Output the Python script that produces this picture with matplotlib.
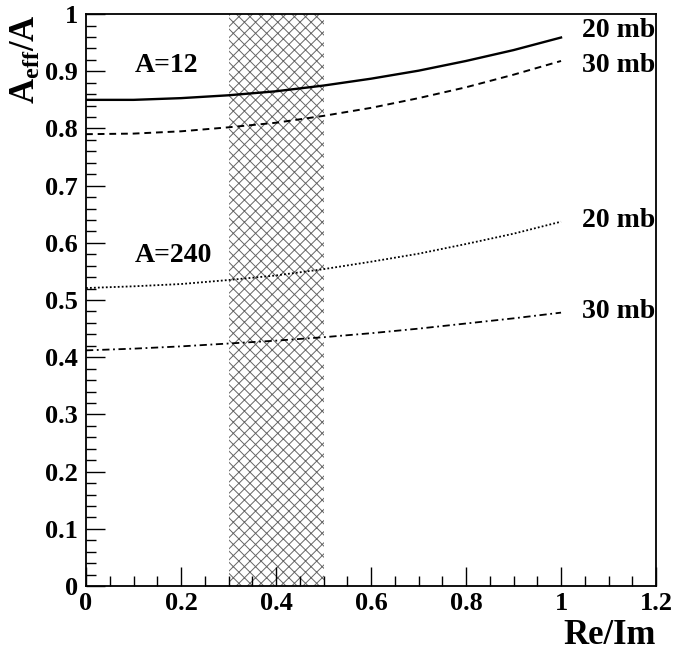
import numpy as np
import matplotlib
matplotlib.use("Agg")
import matplotlib.pyplot as plt
from matplotlib.ticker import MultipleLocator, FuncFormatter

# curves (Re/Im vs A_eff/A)
re_im = [0.0, 0.1, 0.2, 0.3, 0.4, 0.5, 0.6, 0.7, 0.8, 0.9, 1.0]
a12_20mb = [0.850, 0.850, 0.853, 0.858, 0.865, 0.875, 0.887, 0.901, 0.918, 0.937, 0.959]
a12_30mb = [0.790, 0.791, 0.795, 0.802, 0.810, 0.822, 0.836, 0.853, 0.872, 0.894, 0.918]
a240_20mb = [0.521, 0.524, 0.528, 0.535, 0.543, 0.554, 0.567, 0.581, 0.598, 0.616, 0.637]
a240_30mb = [0.412, 0.415, 0.419, 0.424, 0.429, 0.435, 0.442, 0.450, 0.459, 0.468, 0.478]
band = (0.3, 0.5)

plt.rcParams['font.family'] = 'Liberation Serif'
plt.rcParams['font.weight'] = 'bold'
plt.rcParams['mathtext.fontset'] = 'custom'
plt.rcParams['mathtext.rm'] = 'Liberation Serif:bold'
plt.rcParams['mathtext.bf'] = 'Liberation Serif:bold'
plt.rcParams['mathtext.default'] = 'bf'
plt.rcParams['hatch.color'] = '#666666'
plt.rcParams['hatch.linewidth'] = 0.7

fig = plt.figure(figsize=(6.73, 6.51), dpi=100)
ax = fig.add_axes([0.1278, 0.0998, 0.847, 0.8786])

# shaded Re/Im band
ax.axvspan(band[0], band[1], facecolor='white', hatch='xxx',
           linewidth=0, zorder=0)

ax.plot(re_im, a12_20mb, color='black', lw=1.7, ls='-')
ax.plot(re_im, a12_30mb, color='black', lw=1.4, ls=(0, (3.5, 2.5)))
ax.plot(re_im, a240_20mb, color='black', lw=1.3, ls=(0, (1, 1.2)))
ax.plot(re_im, a240_30mb, color='black', lw=1.3, ls=(0, (4, 2, 1, 2)))

txt = dict(fontsize=20, fontweight='bold', clip_on=False, va='baseline', ha='left')
ax.text(0.103, 0.899, 'A=12', **txt)
ax.text(0.103, 0.566, 'A=240', **txt)
ax.text(1.044, 0.960, '20 mb', **txt)
ax.text(1.044, 0.899, '30 mb', **txt)
ax.text(1.044, 0.628, '20 mb', **txt)
ax.text(1.044, 0.469, '30 mb', **txt)

ax.set_xlim(0, 1.2)
ax.set_ylim(0, 1)
ax.xaxis.set_major_locator(MultipleLocator(0.2))
ax.xaxis.set_minor_locator(MultipleLocator(0.05))
ax.yaxis.set_major_locator(MultipleLocator(0.1))
ax.yaxis.set_minor_locator(MultipleLocator(0.02))
ax.xaxis.set_major_formatter(FuncFormatter(lambda v, p: f'{v:g}'))
ax.yaxis.set_major_formatter(FuncFormatter(lambda v, p: f'{v:g}'))
ax.tick_params(which='both', direction='in', top=False, right=False, width=1)
ax.tick_params(which='major', length=14, labelsize=19)
ax.tick_params(axis='x', which='major', pad=4)
ax.tick_params(axis='y', which='major', pad=6)
ax.tick_params(which='minor', length=7)
for s in ax.spines.values():
    s.set_linewidth(1.3)

ax.set_xlabel('Re/Im', fontsize=25, fontweight='bold', loc='right')
ax.xaxis.set_label_coords(1.0, -0.058)
ax.set_ylabel(r'A$_{\mathbf{eff}}$/A', fontsize=25, fontweight='bold', loc='top')
ax.yaxis.set_label_coords(-0.075, 1.0)

fig.savefig('out.png', dpi=100)
